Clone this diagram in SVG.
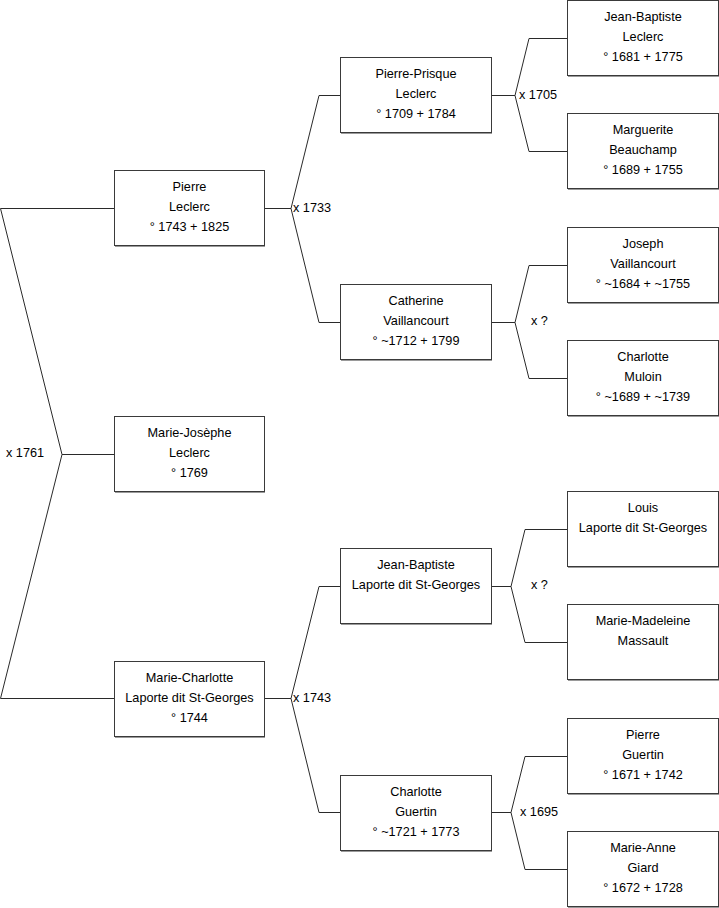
<svg xmlns="http://www.w3.org/2000/svg" width="719" height="908" viewBox="0 0 719 908">
<style>
.box{fill:#fff;stroke:#3a3a3a;stroke-width:1}
.sh{fill:none;stroke:#9a9a9a;stroke-width:1}
.t{font-family:"Liberation Sans",Arial,sans-serif;font-size:12.7px;fill:#000;text-anchor:middle}
.m{font-family:"Liberation Sans",Arial,sans-serif;font-size:12.7px;fill:#000}
.c{fill:none;stroke:#2a2a2a;stroke-width:1}
</style>
<rect width="719" height="908" fill="#fff"/>
<g id="connectors">
<polyline class="c" points="114,208.5 0.5,208.5 62,454.5 0.5,698.5 114,698.5"/>
<line class="c" x1="62" y1="454.5" x2="114" y2="454.5"/>
<polyline class="c" points="340,95.5 319,95.5 291,208.5 319,322.5 340,322.5"/>
<line class="c" x1="265" y1="208.5" x2="291" y2="208.5"/>
<polyline class="c" points="340,586.5 319,586.5 291,698.5 319,812.5 340,812.5"/>
<line class="c" x1="265" y1="698.5" x2="291" y2="698.5"/>
<polyline class="c" points="567,38.5 529,38.5 515,95.5 529,151.5 567,151.5"/>
<line class="c" x1="492" y1="95.5" x2="515" y2="95.5"/>
<polyline class="c" points="567,265.5 529,265.5 515,322.5 529,378.5 567,378.5"/>
<line class="c" x1="492" y1="322.5" x2="515" y2="322.5"/>
<polyline class="c" points="567,529.5 525,529.5 511,586.5 525,642.5 567,642.5"/>
<line class="c" x1="492" y1="586.5" x2="511" y2="586.5"/>
<polyline class="c" points="567,756.5 525,756.5 511,812.5 525,869.5 567,869.5"/>
<line class="c" x1="492" y1="812.5" x2="511" y2="812.5"/>
<text class="m" x="6" y="457">x 1761</text>
<text class="m" x="293" y="212">x 1733</text>
<text class="m" x="293" y="702">x 1743</text>
<text class="m" x="519" y="99">x 1705</text>
<text class="m" x="531" y="325">x ?</text>
<text class="m" x="531" y="589">x ?</text>
<text class="m" x="520" y="816">x 1695</text>
</g>
<g id="pierre-leclerc"><rect class="box" x="114.5" y="170.5" width="150" height="75"/><line class="sh" x1="115" y1="246.5" x2="265" y2="246.5"/>
<text class="t" x="189.5" y="190.5">Pierre</text><text class="t" x="189.5" y="210.5">Leclerc</text><text class="t" x="189.5" y="230.5">° 1743 + 1825</text></g>
<g id="marie-josephe-leclerc"><rect class="box" x="114.5" y="416.5" width="150" height="75"/><line class="sh" x1="115" y1="492.5" x2="265" y2="492.5"/>
<text class="t" x="189.5" y="436.5">Marie-Josèphe</text><text class="t" x="189.5" y="456.5">Leclerc</text><text class="t" x="189.5" y="476.5">° 1769</text></g>
<g id="marie-charlotte-laporte"><rect class="box" x="114.5" y="661.5" width="150" height="75"/><line class="sh" x1="115" y1="737.5" x2="265" y2="737.5"/>
<text class="t" x="189.5" y="681.5">Marie-Charlotte</text><text class="t" x="189.5" y="701.5">Laporte dit St-Georges</text><text class="t" x="189.5" y="721.5">° 1744</text></g>
<g id="pierre-prisque-leclerc"><rect class="box" x="340.5" y="57.5" width="151" height="75"/><line class="sh" x1="341" y1="133.5" x2="492" y2="133.5"/>
<text class="t" x="416" y="77.5">Pierre-Prisque</text><text class="t" x="416" y="97.5">Leclerc</text><text class="t" x="416" y="117.5">° 1709 + 1784</text></g>
<g id="catherine-vaillancourt"><rect class="box" x="340.5" y="284.5" width="151" height="75"/><line class="sh" x1="341" y1="360.5" x2="492" y2="360.5"/>
<text class="t" x="416" y="304.5">Catherine</text><text class="t" x="416" y="324.5">Vaillancourt</text><text class="t" x="416" y="344.5">° ~1712 + 1799</text></g>
<g id="jean-baptiste-laporte"><rect class="box" x="340.5" y="548.5" width="151" height="75"/><line class="sh" x1="341" y1="624.5" x2="492" y2="624.5"/>
<text class="t" x="416" y="568.5">Jean-Baptiste</text><text class="t" x="416" y="588.5">Laporte dit St-Georges</text></g>
<g id="charlotte-guertin"><rect class="box" x="340.5" y="775.5" width="151" height="75"/><line class="sh" x1="341" y1="851.5" x2="492" y2="851.5"/>
<text class="t" x="416" y="795.5">Charlotte</text><text class="t" x="416" y="815.5">Guertin</text><text class="t" x="416" y="835.5">° ~1721 + 1773</text></g>
<g id="jean-baptiste-leclerc"><rect class="box" x="567.5" y="0.5" width="151" height="75"/><line class="sh" x1="568" y1="76.5" x2="719" y2="76.5"/>
<text class="t" x="643" y="20.5">Jean-Baptiste</text><text class="t" x="643" y="40.5">Leclerc</text><text class="t" x="643" y="60.5">° 1681 + 1775</text></g>
<g id="marguerite-beauchamp"><rect class="box" x="567.5" y="113.5" width="151" height="75"/><line class="sh" x1="568" y1="189.5" x2="719" y2="189.5"/>
<text class="t" x="643" y="133.5">Marguerite</text><text class="t" x="643" y="153.5">Beauchamp</text><text class="t" x="643" y="173.5">° 1689 + 1755</text></g>
<g id="joseph-vaillancourt"><rect class="box" x="567.5" y="227.5" width="151" height="75"/><line class="sh" x1="568" y1="303.5" x2="719" y2="303.5"/>
<text class="t" x="643" y="247.5">Joseph</text><text class="t" x="643" y="267.5">Vaillancourt</text><text class="t" x="643" y="287.5">° ~1684 + ~1755</text></g>
<g id="charlotte-muloin"><rect class="box" x="567.5" y="340.5" width="151" height="75"/><line class="sh" x1="568" y1="416.5" x2="719" y2="416.5"/>
<text class="t" x="643" y="360.5">Charlotte</text><text class="t" x="643" y="380.5">Muloin</text><text class="t" x="643" y="400.5">° ~1689 + ~1739</text></g>
<g id="louis-laporte"><rect class="box" x="567.5" y="491.5" width="151" height="75"/><line class="sh" x1="568" y1="567.5" x2="719" y2="567.5"/>
<text class="t" x="643" y="511.5">Louis</text><text class="t" x="643" y="531.5">Laporte dit St-Georges</text></g>
<g id="marie-madeleine-massault"><rect class="box" x="567.5" y="604.5" width="151" height="75"/><line class="sh" x1="568" y1="680.5" x2="719" y2="680.5"/>
<text class="t" x="643" y="624.5">Marie-Madeleine</text><text class="t" x="643" y="644.5">Massault</text></g>
<g id="pierre-guertin"><rect class="box" x="567.5" y="718.5" width="151" height="75"/><line class="sh" x1="568" y1="794.5" x2="719" y2="794.5"/>
<text class="t" x="643" y="738.5">Pierre</text><text class="t" x="643" y="758.5">Guertin</text><text class="t" x="643" y="778.5">° 1671 + 1742</text></g>
<g id="marie-anne-giard"><rect class="box" x="567.5" y="831.5" width="151" height="75"/><line class="sh" x1="568" y1="907.5" x2="719" y2="907.5"/>
<text class="t" x="643" y="851.5">Marie-Anne</text><text class="t" x="643" y="871.5">Giard</text><text class="t" x="643" y="891.5">° 1672 + 1728</text></g>
</svg>
